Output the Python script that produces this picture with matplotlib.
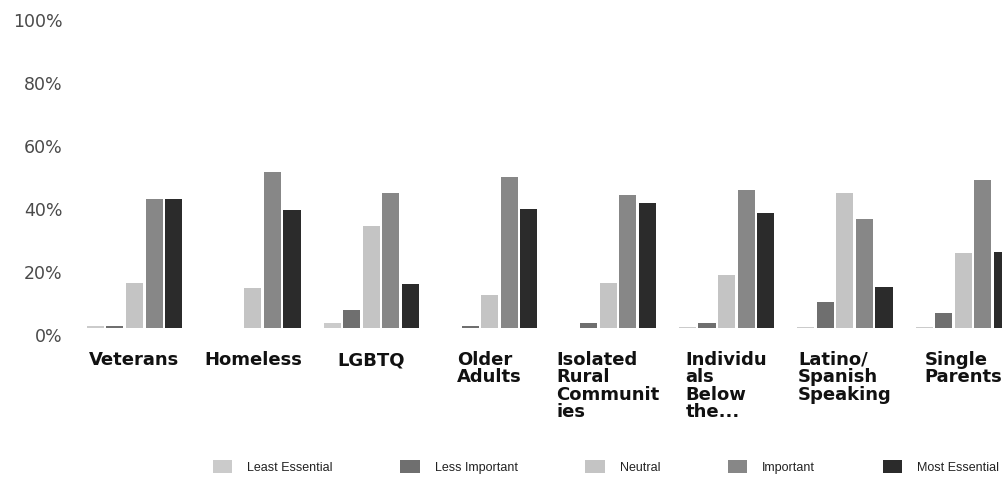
import matplotlib
matplotlib.use("Agg")
import matplotlib.pyplot as plt
import matplotlib.transforms as mtransforms
from matplotlib.patches import Patch
import numpy as np

# Survey: how essential is each population to serve
categories = ["Veterans", "Homeless", "LGBTQ", "Older\nAdults",
              "Isolated\nRural\nCommunit\nies", "Individu\nals\nBelow\nthe...",
              "Latino/\nSpanish\nSpeaking", "Single\nParents"]
series_names = ["Least Essential", "Less Important", "Neutral", "Important", "Most Essential"]

least_essential = [0.7, 0.0, 1.6, 0.0, 0.0, 0.3, 0.3, 0.3]
less_important = [0.7, 0.0, 5.7, 0.5, 1.7, 1.7, 8.3, 4.8]
neutral = [14.3, 12.7, 32.4, 10.5, 14.3, 16.8, 43.0, 23.8]
important = [41.0, 49.5, 43.0, 48.0, 42.2, 43.8, 34.6, 47.0]
most_essential = [41.0, 37.5, 14.0, 37.8, 39.7, 36.5, 13.0, 24.0]

y_ticks = [0, 20, 40, 60, 80, 100]
y_tick_labels = ["0%", "20%", "40%", "60%", "80%", "100%"]

series = [least_essential, less_important, neutral, important, most_essential]
colors = ["#cbcbcb", "#6f6f6f", "#c4c4c4", "#878787", "#2b2b2b"]

W, H = 1003, 495
fig = plt.figure(figsize=(W / 100, H / 100), dpi=100)
ax = fig.add_axes([75 / W, (H - 328) / H, 1 - 75 / W, (328 - 13) / H])

x = np.arange(len(categories))
step = 0.165
width = 0.144
for i, (vals, col) in enumerate(zip(series, colors)):
    ax.bar(x + (i - 2) * step, vals, width=width, color=col, linewidth=0)

ax.set_xlim(-0.5025, 7.335)
ax.set_ylim(0, 100)
ax.set_yticks(y_ticks)
ax.set_yticklabels(y_tick_labels, fontsize=12.5, color="#4a4a4a", family="DejaVu Sans")
ax.tick_params(axis="y", length=0, pad=9)
ax.set_xticks([])
for s in ax.spines.values():
    s.set_visible(False)

# y labels sit slightly below their grid level
off = mtransforms.ScaledTranslation(0, -7 / 100, fig.dpi_scale_trans)
for lab in ax.get_yticklabels():
    lab.set_transform(lab.get_transform() + off)

# category labels: block centred under the group, lines left-aligned
label_tr = mtransforms.blended_transform_factory(ax.transData, fig.transFigure)
for xi, name in zip(x, categories):
    fig.text(xi, (H - 351) / H, name, transform=label_tr, ha="center", va="top",
             multialignment="left", fontsize=13, fontweight="bold",
             family="DejaVu Sans", color="#111111", linespacing=0.95)

handles = [Patch(facecolor=c, edgecolor="none") for c in colors]
fig.legend(handles, series_names, loc="center", bbox_to_anchor=(606 / W, (H - 467) / H),
           ncol=5, frameon=False, prop={"family": "Liberation Sans", "size": 9},
           handlelength=1.55, handleheight=1.2, handletextpad=1.2, columnspacing=5.4,
           labelcolor="#222222")

fig.savefig("out.png", dpi=100)
